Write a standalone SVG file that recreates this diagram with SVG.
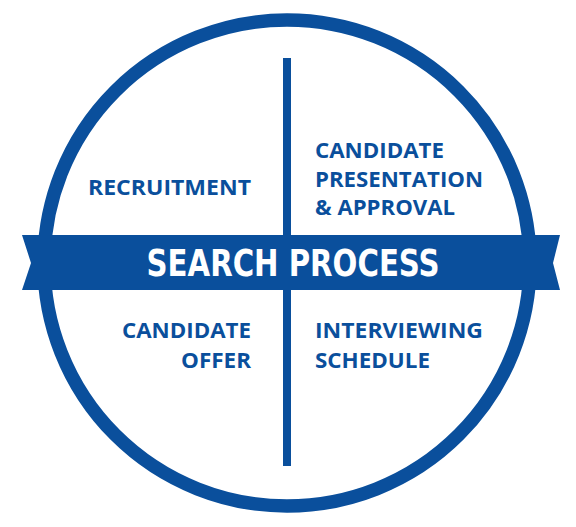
<svg xmlns="http://www.w3.org/2000/svg" width="576" height="527" viewBox="0 0 576 527">
<style>
.lbl{font-family:"Open Sans","Liberation Sans",Arial,sans-serif;font-weight:bold;font-size:21px;fill:#0a4f9c}
.title{font-family:"DejaVu Sans Condensed","Liberation Sans",sans-serif;font-weight:bold;font-size:38px;fill:#ffffff}
</style>
<rect width="576" height="527" fill="#ffffff"/>
<g id="ring"><circle cx="287" cy="263" r="243" fill="none" stroke="#0a4f9c" stroke-width="13.5"/></g>
<g id="connectors"><rect x="283" y="58" width="8" height="408" fill="#0a4f9c"/></g>
<g id="band">
<polygon points="22,235 560,235 553,263 560,290 22,290 31,263" fill="#0a4f9c"/>
<text class="title" x="293" y="276" text-anchor="middle" textLength="293" lengthAdjust="spacingAndGlyphs">SEARCH PROCESS</text>
</g>
<g id="recruitment"><text class="lbl" x="88" y="195" textLength="163" lengthAdjust="spacingAndGlyphs">RECRUITMENT</text></g>
<g id="presentation">
<text class="lbl" x="315" y="158" textLength="129" lengthAdjust="spacingAndGlyphs">CANDIDATE</text>
<text class="lbl" x="315" y="187" textLength="168" lengthAdjust="spacingAndGlyphs">PRESENTATION</text>
<text class="lbl" x="315" y="215" textLength="140" lengthAdjust="spacingAndGlyphs">&amp; APPROVAL</text>
</g>
<g id="offer">
<text class="lbl" x="122" y="338" textLength="129" lengthAdjust="spacingAndGlyphs">CANDIDATE</text>
<text class="lbl" x="181" y="368" textLength="70" lengthAdjust="spacingAndGlyphs">OFFER</text>
</g>
<g id="interviewing">
<text class="lbl" x="315" y="338" textLength="168" lengthAdjust="spacingAndGlyphs">INTERVIEWING</text>
<text class="lbl" x="315" y="368" textLength="115" lengthAdjust="spacingAndGlyphs">SCHEDULE</text>
</g>
</svg>
